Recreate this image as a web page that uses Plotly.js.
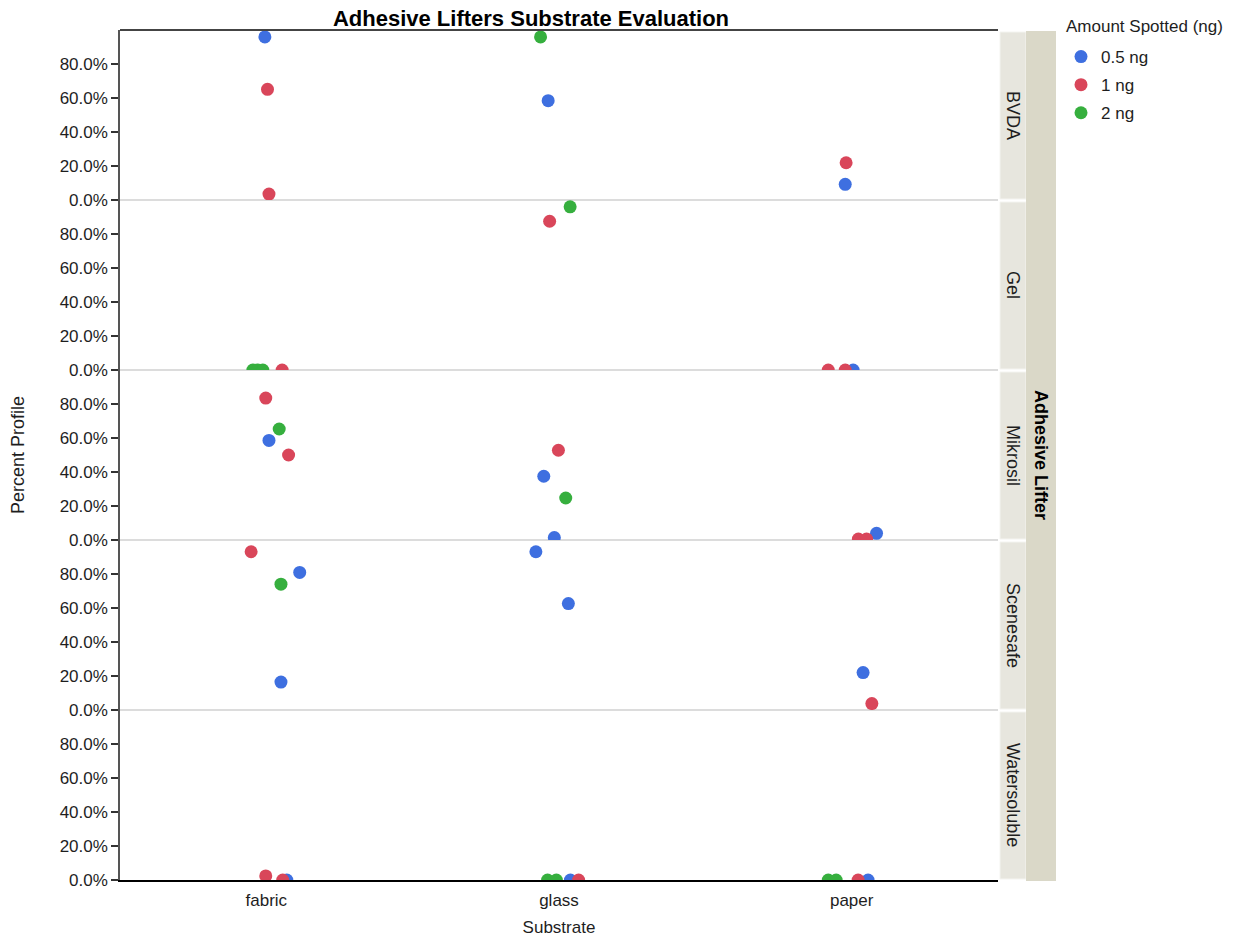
<!DOCTYPE html>
<html>
<head>
<meta charset="utf-8">
<script src="https://cdn.plot.ly/plotly-3.0.1.min.js"></script>
<style>
  html, body { margin: 0; padding: 0; background: #ffffff; }
  #chart { width: 1243px; height: 939px; }
</style>
</head>
<body>
<div id="chart"></div>
<script>
// ---------------- DATA ----------------
const lifters = ['BVDA', 'Gel', 'Mikrosil', 'Scenesafe', 'Watersoluble'];
const substrates = ['fabric', 'glass', 'paper'];
const amounts = ['0.5 ng', '1 ng', '2 ng'];
const yTicks = [0, 20, 40, 60, 80];
const yTickText = ['0.0%', '20.0%', '40.0%', '60.0%', '80.0%'];

// 0.5 ng
const lifter05 = ['BVDA','BVDA','BVDA','Gel','Mikrosil','Mikrosil','Mikrosil','Mikrosil','Scenesafe','Scenesafe','Scenesafe','Scenesafe','Scenesafe','Watersoluble','Watersoluble','Watersoluble'];
const substrate05 = ['fabric','glass','paper','paper','fabric','glass','glass','paper','fabric','fabric','glass','glass','paper','fabric','glass','paper'];
const pct05 = [95.9, 58.4, 9.2, 0, 58.6, 37.5, 1.4, 3.9, 80.9, 16.4, 93.1, 62.6, 22.0, 0, 0, 0];
const jitter05 = [-0.005, -0.037, -0.022, 0.005, 0.009, -0.052, -0.016, 0.085, 0.114, 0.050, -0.079, 0.032, 0.039, 0.070, 0.039, 0.056];

// 1 ng
const lifter1 = ['BVDA','BVDA','BVDA','Gel','Gel','Gel','Gel','Mikrosil','Mikrosil','Mikrosil','Mikrosil','Mikrosil','Scenesafe','Scenesafe','Watersoluble','Watersoluble','Watersoluble','Watersoluble'];
const substrate1 = ['fabric','fabric','paper','fabric','glass','paper','paper','fabric','fabric','glass','paper','paper','fabric','paper','fabric','fabric','glass','paper'];
const pct1 = [65.1, 3.5, 21.9, 0, 87.5, 0, 0, 83.5, 50.0, 52.8, 0.6, 0.6, 93.1, 3.8, 2.4, 0, 0, 0];
const jitter1 = [0.004, 0.009, -0.019, 0.054, -0.032, -0.080, -0.022, -0.002, 0.076, -0.002, 0.023, 0.051, -0.052, 0.069, -0.002, 0.056, 0.067, 0.022];

// 2 ng
const lifter2 = ['BVDA','Gel','Gel','Gel','Gel','Mikrosil','Mikrosil','Scenesafe','Watersoluble','Watersoluble','Watersoluble','Watersoluble'];
const substrate2 = ['glass','glass','fabric','fabric','fabric','fabric','glass','fabric','glass','glass','paper','paper'];
const pct2 = [95.9, 96.0, 0, 0, 0, 65.3, 24.7, 74.0, 0, 0, 0, 0];
const jitter2 = [-0.063, 0.038, -0.046, -0.029, -0.012, 0.044, 0.023, 0.050, -0.039, -0.009, -0.080, -0.053];

const series = [
  { name: amounts[0], lifter: lifter05, substrate: substrate05, pct: pct05, jitter: jitter05, color: '#3E6FE0' },
  { name: amounts[1], lifter: lifter1,  substrate: substrate1,  pct: pct1,  jitter: jitter1,  color: '#D9465A' },
  { name: amounts[2], lifter: lifter2,  substrate: substrate2,  pct: pct2,  jitter: jitter2,  color: '#36AF3E' }
];

// ---------------- TRACES ----------------
const nF = lifters.length;
const traces = [];
series.forEach(s => {
  lifters.forEach((lf, k) => {
    const xs = [], ys = [];
    s.lifter.forEach((l, i) => {
      if (l === lf) {
        xs.push(substrates.indexOf(s.substrate[i]) + s.jitter[i]);
        ys.push(s.pct[i]);
      }
    });
    traces.push({
      type: 'scatter', mode: 'markers',
      x: xs, y: ys,
      xaxis: 'x', yaxis: k === 0 ? 'y' : 'y' + (k + 1),
      name: s.name, legendgroup: s.name,
      showlegend: k === 0,
      marker: { color: s.color, size: 13, line: { width: 0 } },
      hovertemplate: lf + '<br>%{y:.1f}%<extra>' + s.name + '</extra>'
    });
  });
});

// ---------------- LAYOUT ----------------
const L = 120, R = 998, T = 30, B = 880, W = 1243, H = 939;
const pw = R - L, ph = B - T;
const px2x = px => (px - L) / pw;
const py2y = py => 1 - (py - T) / ph;
const FAM = 'Liberation Sans, Arial, sans-serif';
const tickFont = { family: FAM, size: 17, color: '#1e1e1e' };

const layout = {
  width: W, height: H,
  margin: { l: L, r: W - R, t: T, b: H - B, pad: 0 },
  paper_bgcolor: '#ffffff', plot_bgcolor: '#ffffff',
  showlegend: true,
  title: {
    text: '<b>Adhesive Lifters Substrate Evaluation</b>',
    font: { family: FAM, size: 22, color: '#000' },
    x: px2x(531), xref: 'paper', xanchor: 'center',
    y: 1 - 18 / H, yref: 'container', yanchor: 'middle'
  },
  xaxis: {
    range: [-0.5, 2.5], anchor: 'y5',
    tickvals: [0, 1, 2], ticktext: substrates,
    showgrid: false, zeroline: false,
    showline: true, linecolor: '#000', linewidth: 2,
    ticks: '', tickfont: tickFont, ticklabelstandoff: 4,
    title: { text: 'Substrate', font: tickFont, standoff: 12 }
  },
  legend: {
    xref: 'container', yref: 'container',
    x: 1061 / W, y: 1 - 39 / H, xanchor: 'left', yanchor: 'top',
    font: { family: FAM, size: 17, color: '#1e1e1e' },
    traceorder: 'grouped', tracegroupgap: 3,
    bgcolor: 'rgba(0,0,0,0)', itemwidth: 30
  },
  shapes: [],
  annotations: []
};

lifters.forEach((lf, k) => {
  const key = k === 0 ? 'yaxis' : 'yaxis' + (k + 1);
  const top = 1 - k / nF, bot = 1 - (k + 1) / nF;
  layout[key] = {
    domain: [bot, top], anchor: 'x',
    range: [0, 100],
    tickvals: yTicks, ticktext: yTickText,
    ticks: 'outside', ticklen: 7, tickcolor: '#333', tickwidth: 1.5,
    tickfont: tickFont,
    showgrid: false,
    zeroline: true, zerolinecolor: '#dcdcdc', zerolinewidth: 2,
    showline: true, linecolor: '#555', linewidth: 1.5,
    fixedrange: true
  };
  if (k === 2) {
    layout[key].title = { text: 'Percent Profile', font: { family: FAM, size: 18, color: '#1e1e1e' }, standoff: 30 };
  }
  // inner strip
  const fTop = T + k * ph / nF, fBot = T + (k + 1) * ph / nF;
  layout.shapes.push({
    type: 'rect', xref: 'paper', yref: 'paper',
    x0: px2x(1000), x1: px2x(1026), y0: py2y(fBot - 1), y1: py2y(fTop + 2),
    fillcolor: '#E7E6DE', line: { color: '#F4F4F0', width: 1 }, layer: 'below'
  });
  layout.annotations.push({
    xref: 'paper', yref: 'paper', x: px2x(1013), y: (top + bot) / 2,
    text: lf, textangle: 90, showarrow: false,
    font: { family: FAM, size: 18, color: '#1e1e1e' },
    xanchor: 'center', yanchor: 'middle'
  });
});

// outer strip
layout.shapes.push({
  type: 'rect', xref: 'paper', yref: 'paper',
  x0: px2x(1026), x1: px2x(1056), y0: py2y(881), y1: py2y(31),
  fillcolor: '#DAD8C8', line: { width: 0 }, layer: 'below'
});
// top border
layout.shapes.push({
  type: 'line', xref: 'paper', yref: 'paper',
  x0: 0, x1: 1, y0: 1, y1: 1,
  line: { color: '#444', width: 2 }
});
layout.annotations.push({
  xref: 'paper', yref: 'paper', x: px2x(1041), y: 0.5,
  text: '<b>Adhesive Lifter</b>', textangle: 90, showarrow: false,
  font: { family: FAM, size: 18, color: '#000' },
  xanchor: 'center', yanchor: 'middle'
});
// legend title
layout.annotations.push({
  xref: 'paper', yref: 'paper', x: px2x(1064), y: py2y(26),
  text: 'Amount Spotted (ng)', showarrow: false,
  font: { family: FAM, size: 17, color: '#1e1e1e' },
  xanchor: 'left', yanchor: 'middle'
});

Plotly.newPlot('chart', traces, layout, { displayModeBar: false, responsive: false });
</script>
</body>
</html>
